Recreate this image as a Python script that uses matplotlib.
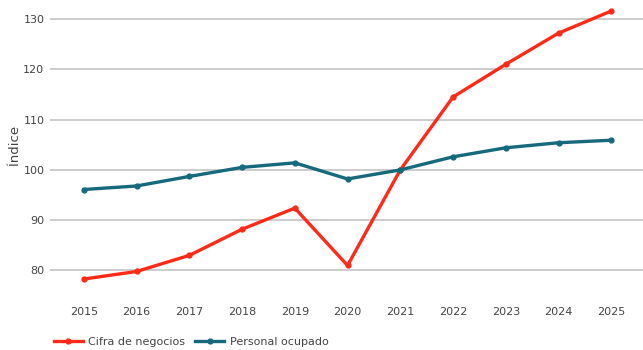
import matplotlib
matplotlib.use("Agg")
import matplotlib.pyplot as plt

years = [2015, 2016, 2017, 2018, 2019, 2020, 2021, 2022, 2023, 2024, 2025]
cifra_negocios = [78.3, 79.8, 83.0, 88.2, 92.4, 81.0, 100.0, 114.5, 121.0, 127.2, 131.6]
personal_ocupado = [96.1, 96.8, 98.7, 100.5, 101.4, 98.2, 100.0, 102.6, 104.4, 105.4, 105.9]
series_names = ["Cifra de negocios", "Personal ocupado"]
y_ticks = [80, 90, 100, 110, 120, 130]

W, H = 643, 350
fig = plt.figure(figsize=(W / 100, H / 100), dpi=100)
ax = fig.add_axes([50 / W, 1 - 290 / H, 1 - 50 / W, 290 / H])

red = "#ff2a17"
teal = "#17697c"
ax.plot(years, cifra_negocios, color=red, lw=2.4, marker="o", ms=3.5, label=series_names[0], zorder=3)
ax.plot(years, personal_ocupado, color=teal, lw=2.4, marker="o", ms=3.5, label=series_names[1], zorder=3)

ax.set_xlim(2014.36, 2025.6)
ax.set_ylim(76.12, 133.78)
ax.set_yticks(y_ticks)
ax.set_xticks(years)
ax.grid(axis="y", color="#c4c4c4", lw=1.2)
ax.grid(axis="x", visible=False)
for s in ax.spines.values():
    s.set_visible(False)
ax.tick_params(axis="both", length=0, labelsize=8, labelcolor="#444444")
ax.tick_params(axis="x", pad=12)
ax.tick_params(axis="y", pad=4)
ax.set_ylabel("Índice", fontsize=9.5, color="#444444", labelpad=1.5)

fig.legend(loc="center left", bbox_to_anchor=(54 / W, 1 - 342 / H), ncol=2, frameon=False,
           fontsize=8, labelcolor="#444444", handlelength=2.6, handletextpad=0.5, columnspacing=0.9,
           borderpad=0, borderaxespad=0)

fig.savefig("out.png", dpi=100)
